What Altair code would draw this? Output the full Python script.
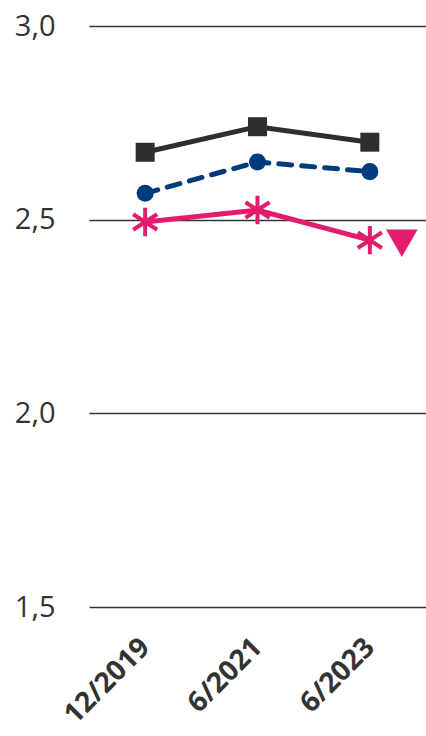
import altair as alt
import pandas as pd

dates = ["12/2019", "6/2021", "6/2023"]
black_vals = [2.674, 2.740, 2.700]
navy_vals = [2.568, 2.649, 2.624]
pink_vals = [2.494, 2.525, 2.447]
marker_date = ["6/2023"]
marker_val = [2.447]

BLACK = "#2e2e2e"
NAVY = "#003c7d"
PINK = "#e31c6b"
TXT = "#333333"
FONT = "Open Sans"

def frame(vals):
    return pd.DataFrame({"date": dates, "value": vals})

x_enc = alt.X(
    "date:N",
    sort=dates,
    scale=alt.Scale(type="point", padding=0.5),
    axis=alt.Axis(
        title=None, domain=False, ticks=False, grid=False,
        labelAngle=-45, labelAlign="right", labelBaseline="middle",
        labelFont=FONT, labelFontSize=28, labelFontWeight="bold",
        labelColor=TXT, labelPadding=36,
    ),
)
y_enc = alt.Y(
    "value:Q",
    scale=alt.Scale(domain=[1.5, 3.0], nice=False, zero=False),
    axis=alt.Axis(
        title=None, domain=False, ticks=False, grid=True,
        values=[1.5, 2.0, 2.5, 3.0],
        labelExpr="replace(format(datum.value, '.1f'), '.', ',')",
        gridColor="#333333", gridWidth=1.6,
        labelFont=FONT, labelFontSize=29, labelColor=TXT, labelPadding=34,
    ),
)

ASTER = "M0,-1L0,1M-0.85,-0.55L0.85,0.55M-0.85,0.55L0.85,-0.55"

black_line = alt.Chart(frame(black_vals)).mark_line(color=BLACK, strokeWidth=5).encode(x=x_enc, y=y_enc)
black_pts = alt.Chart(frame(black_vals)).mark_point(shape="square", filled=True, color=BLACK, size=361, opacity=1).encode(x=x_enc, y=y_enc)

navy_line = alt.Chart(frame(navy_vals)).mark_line(
    color=NAVY, strokeWidth=5, strokeDash=[13, 10], strokeCap="round"
).encode(x=x_enc, y=y_enc)
navy_pts = alt.Chart(frame(navy_vals)).mark_point(shape="circle", filled=True, color=NAVY, size=290, opacity=1).encode(x=x_enc, y=y_enc)

pink_line = alt.Chart(frame(pink_vals)).mark_line(color=PINK, strokeWidth=5).encode(x=x_enc, y=y_enc)
pink_pts = alt.Chart(frame(pink_vals)).mark_point(shape=ASTER, filled=False, color=PINK, strokeWidth=4, size=800, opacity=1).encode(x=x_enc, y=y_enc)

marker = alt.Chart(pd.DataFrame({"date": marker_date, "value": marker_val})).mark_point(
    shape="triangle-down", filled=True, color=PINK, size=1000, opacity=1, xOffset=32, yOffset=3
).encode(x=x_enc, y=y_enc)

chart = alt.layer(
    black_line, navy_line, pink_line, black_pts, navy_pts, pink_pts, marker
).properties(
    width=337, height=581,
    autosize=alt.AutoSizeParams(type="none"),
    padding={"left": 89, "top": 26, "right": 0, "bottom": 129},
    background="white",
).configure_view(stroke=None)

chart.save("out.html", embed_options={"renderer": "svg", "actions": False})
